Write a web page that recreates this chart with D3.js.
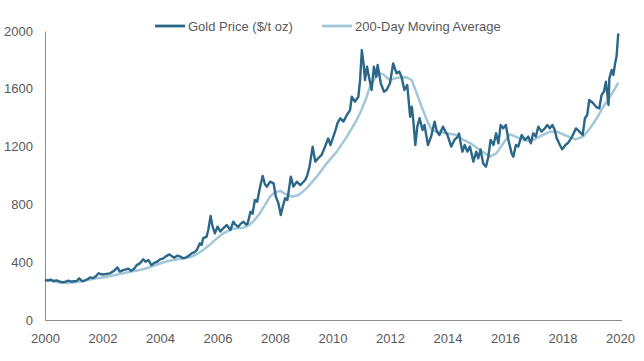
<!DOCTYPE html>
<html lang="en">
<head>
<meta charset="utf-8">
<title>Gold Price</title>
<script src="https://d3js.org/d3.v7.min.js"></script>
<style>
  body { margin: 0; background: #fff; }
  text { font-family: "Liberation Sans", Arial, sans-serif; font-size: 13px; fill: #595959; }
</style>
</head>
<body>
<div id="chart"></div>
<script>
// gold price (decimal year, $/t oz)
var goldYears = [
  2000.00, 2000.10, 2000.20, 2000.29, 2000.40, 2000.52, 2000.64, 2000.72, 2000.81, 2000.92,
  2001.00, 2001.10, 2001.19, 2001.30, 2001.40, 2001.50, 2001.57, 2001.68, 2001.78, 2001.86,
  2002.00, 2002.12, 2002.26, 2002.40, 2002.52, 2002.60, 2002.72, 2002.82, 2002.90, 2003.00,
  2003.10, 2003.19, 2003.30, 2003.42, 2003.50, 2003.60, 2003.70, 2003.80, 2003.90, 2004.00,
  2004.10, 2004.20, 2004.33, 2004.42, 2004.50, 2004.60, 2004.70, 2004.80, 2004.90, 2005.00,
  2005.10, 2005.20, 2005.28, 2005.39, 2005.45, 2005.50, 2005.62, 2005.68, 2005.76, 2005.83,
  2005.91, 2006.00, 2006.10, 2006.20, 2006.32, 2006.45, 2006.55, 2006.62, 2006.72, 2006.80,
  2006.90, 2007.00, 2007.05, 2007.15, 2007.22, 2007.30, 2007.38, 2007.48, 2007.57, 2007.65,
  2007.72, 2007.83, 2007.95, 2008.03, 2008.12, 2008.20, 2008.27, 2008.35, 2008.43, 2008.55,
  2008.64, 2008.76, 2008.88, 2008.96, 2009.05, 2009.12, 2009.20, 2009.31, 2009.40, 2009.50,
  2009.62, 2009.74, 2009.85, 2009.93, 2010.03, 2010.10, 2010.17, 2010.27, 2010.38, 2010.50,
  2010.61, 2010.67, 2010.78, 2010.90, 2010.96, 2011.02, 2011.08, 2011.13, 2011.20, 2011.29,
  2011.36, 2011.44, 2011.52, 2011.57, 2011.68, 2011.79, 2011.88, 2012.00, 2012.11, 2012.23,
  2012.32, 2012.40, 2012.50, 2012.60, 2012.70, 2012.76, 2012.82, 2012.88, 2012.95, 2013.03,
  2013.13, 2013.20, 2013.32, 2013.43, 2013.55, 2013.63, 2013.72, 2013.84, 2013.93, 2014.00,
  2014.13, 2014.24, 2014.36, 2014.40, 2014.48, 2014.52, 2014.60, 2014.69, 2014.78, 2014.90,
  2015.00, 2015.07, 2015.15, 2015.24, 2015.34, 2015.42, 2015.50, 2015.60, 2015.69, 2015.77,
  2015.85, 2015.94, 2016.03, 2016.12, 2016.23, 2016.29, 2016.38, 2016.46, 2016.58, 2016.70,
  2016.81, 2016.90, 2016.98, 2017.07, 2017.16, 2017.27, 2017.39, 2017.47, 2017.56, 2017.65,
  2017.73, 2017.80, 2017.91, 2017.99, 2018.10, 2018.20, 2018.32, 2018.47, 2018.59, 2018.70,
  2018.78, 2018.86, 2018.93, 2019.05, 2019.19, 2019.28, 2019.36, 2019.44, 2019.51, 2019.60,
  2019.63, 2019.71, 2019.77, 2019.83, 2019.88, 2019.94
];
var goldPrices = [
  277, 272, 280, 270, 274, 265, 261, 266, 272, 265,
  268, 270, 288, 268, 275, 285, 295, 290, 305, 323,
  315, 318, 323, 340, 364, 335, 345, 350, 355, 340,
  355, 380, 392, 420, 403, 415, 380, 395, 403, 420,
  425, 440, 454, 440, 432, 445, 440, 428, 432, 445,
  461, 470, 484, 531, 520, 565, 577, 623, 720, 646,
  600, 646, 612, 635, 657, 623, 680, 660, 646, 665,
  680, 660, 669, 750, 735, 830, 819, 920, 997, 940,
  923, 957, 946, 853, 807, 727, 784, 842, 830, 992,
  923, 957, 934, 950, 969, 1000, 1061, 1199, 1096, 1119,
  1142, 1199, 1257, 1211, 1269, 1310, 1361, 1396, 1373, 1419,
  1453, 1545, 1511, 1545, 1661, 1868, 1776, 1661, 1753, 1661,
  1592, 1753, 1684, 1765, 1638, 1580, 1592, 1638, 1776, 1707,
  1719, 1684, 1592, 1626, 1407, 1476, 1361, 1211, 1338, 1396,
  1315, 1350, 1211, 1269, 1373, 1304, 1280, 1338, 1304, 1280,
  1200, 1246, 1269, 1290, 1200, 1165, 1211, 1165, 1200, 1096,
  1165, 1119, 1180, 1084, 1061, 1130, 1246, 1211, 1292, 1223,
  1350, 1327, 1350, 1246, 1153, 1130, 1211, 1200, 1280, 1246,
  1269, 1223, 1292, 1269, 1338, 1304, 1327, 1350, 1327, 1350,
  1315, 1257, 1211, 1181, 1211, 1227, 1264, 1326, 1304, 1280,
  1396, 1419, 1522, 1504, 1471, 1465, 1557, 1580, 1649, 1488,
  1672, 1730, 1696, 1776, 1822, 1984
];

// 200-day moving average
var maYears = [
  2000.00, 2000.25, 2000.50, 2000.75, 2001.00, 2001.30, 2001.60, 2001.85, 2002.10, 2002.40,
  2002.72, 2003.00, 2003.30, 2003.60, 2003.85, 2004.10, 2004.33, 2004.60, 2004.80, 2005.10,
  2005.30, 2005.50, 2005.70, 2005.85, 2006.00, 2006.20, 2006.40, 2006.55, 2006.75, 2006.90,
  2007.10, 2007.30, 2007.48, 2007.65, 2007.83, 2008.00, 2008.20, 2008.35, 2008.60, 2008.82,
  2009.10, 2009.45, 2009.80, 2010.15, 2010.50, 2010.84, 2011.00, 2011.19, 2011.30, 2011.50,
  2011.65, 2011.77, 2011.90, 2012.00, 2012.23, 2012.57, 2012.75, 2012.93, 2013.10, 2013.28,
  2013.45, 2013.62, 2013.97, 2014.32, 2014.55, 2014.80, 2015.13, 2015.48, 2015.70, 2015.94,
  2016.17, 2016.52, 2016.87, 2017.20, 2017.57, 2017.80, 2018.08, 2018.45, 2018.72, 2018.96,
  2019.19, 2019.42, 2019.65, 2019.83, 2019.94
];
var maPrices = [
  281, 268, 259, 257, 260, 270, 281, 290, 298, 310,
  323, 335, 346, 362, 380, 398, 410, 420, 425, 438,
  458, 484, 515, 542, 568, 600, 620, 632, 637, 639,
  657, 693, 740, 795, 855, 885, 892, 872, 853, 865,
  911, 992, 1084, 1165, 1269, 1384, 1450, 1545, 1615, 1680,
  1707, 1700, 1675, 1661, 1676, 1680, 1661, 1569, 1476, 1384,
  1315, 1304, 1292, 1280, 1246, 1223, 1177, 1130, 1153, 1223,
  1285, 1257, 1234, 1269, 1303, 1303, 1280, 1250, 1269, 1327,
  1396, 1476, 1545, 1603, 1642
];

var yTicks = [0, 400, 800, 1200, 1600, 2000];
var xTicks = [2000, 2002, 2004, 2006, 2008, 2010, 2012, 2014, 2016, 2018, 2020];
var seriesNames = ["Gold Price ($/t oz)", "200-Day Moving Average"];
var seriesColors = ["#2b6788", "#a3c7d8"];

var w = 644, h = 361;
var padLeft = 45, padRight = 620, padTop = 31, padBottom = 320;

var gold = goldYears.map(function(d, i) { return [d, goldPrices[i]]; });
var ma = maYears.map(function(d, i) { return [d, maPrices[i]]; });

var x = d3.scaleLinear().domain([2000, 2020]).range([padLeft, padRight]);
var y = d3.scaleLinear().domain([0, 2000]).range([padBottom, padTop]);

var svg = d3.select("#chart").append("svg")
  .attr("width", w)
  .attr("height", h)
  .style("background", "#fff");

var xAxis = d3.axisBottom(x).tickValues(xTicks).tickFormat(d3.format("d")).tickSize(0).tickPadding(14);
var yAxis = d3.axisLeft(y).tickValues(yTicks).tickFormat(d3.format("d")).tickSize(0).tickPadding(12);

var gx = svg.append("g").attr("transform", "translate(0," + padBottom + ")").call(xAxis);
var gy = svg.append("g").attr("transform", "translate(" + padLeft + ",0)").call(yAxis);
[gx, gy].forEach(function(g) {
  g.select(".domain").attr("stroke", "#8c8c8c").attr("stroke-width", 1);
  g.selectAll("text").style("font-family", "\"Liberation Sans\", Arial, sans-serif").style("font-size", "13px").attr("fill", "#595959");
});
gx.select(".domain").attr("d", "M" + padLeft + ",0.5H" + (padRight + 2));

var line = d3.line().x(function(d) { return x(d[0]); }).y(function(d) { return y(d[1]); });

svg.append("path").datum(ma)
  .attr("fill", "none").attr("stroke", seriesColors[1]).attr("stroke-width", 2.5)
  .attr("stroke-linejoin", "round").attr("d", line);
svg.append("path").datum(gold)
  .attr("fill", "none").attr("stroke", seriesColors[0]).attr("stroke-width", 2.4)
  .attr("stroke-linejoin", "round").attr("d", line);

// legend
var legendX = [155, 322];
var legend = svg.selectAll(".legend").data(seriesNames).enter().append("g")
  .attr("class", "legend")
  .attr("transform", function(d, i) { return "translate(" + legendX[i] + ",26)"; });
legend.append("line").attr("x1", 0).attr("x2", 30).attr("y1", 0).attr("y2", 0)
  .attr("stroke", function(d, i) { return seriesColors[i]; }).attr("stroke-width", 2.8);
legend.append("text").attr("x", 33).attr("y", 0).attr("dy", "0.35em").text(function(d) { return d; });
</script>
</body>
</html>
